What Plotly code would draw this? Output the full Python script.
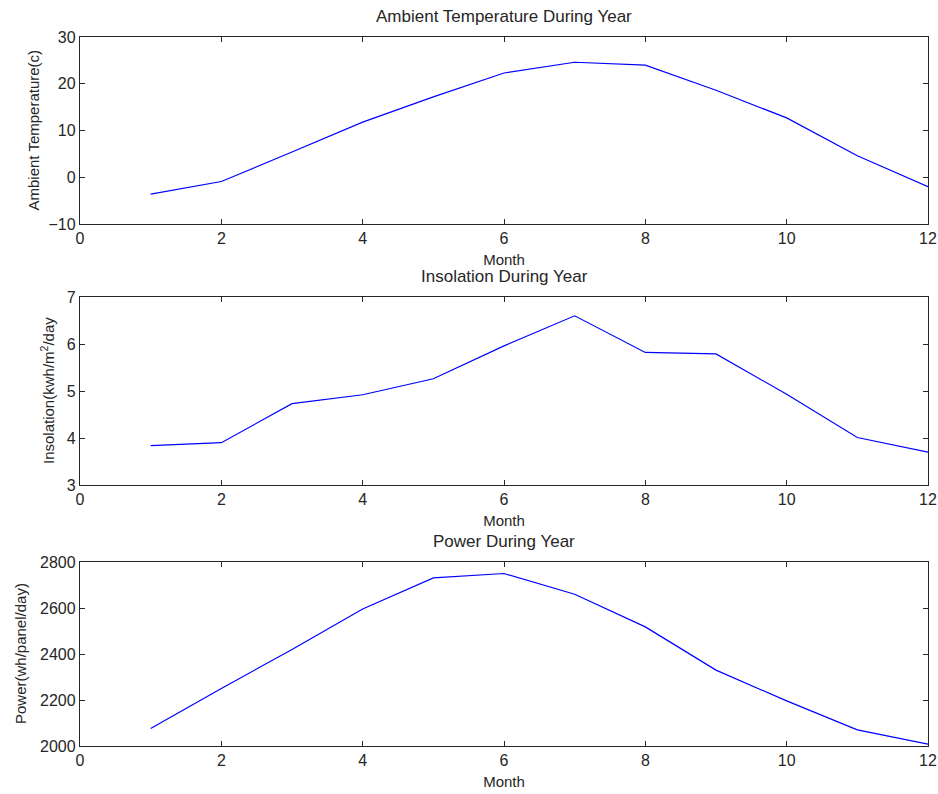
import plotly.graph_objects as go

months = [1, 2, 3, 4, 5, 6, 7, 8, 9, 10, 11, 12]
temperature = [-3.6, -0.9, 5.4, 11.8, 17.2, 22.3, 24.6, 24.0, 18.6, 12.7, 4.6, -2.0]
insolation = [3.84, 3.90, 4.73, 4.92, 5.26, 5.96, 6.60, 5.82, 5.79, 4.93, 4.01, 3.70]
power = [2076, 2250, 2420, 2596, 2731, 2750, 2660, 2518, 2330, 2196, 2070, 2008]

titles = ["Ambient Temperature During Year", "Insolation During Year", "Power During Year"]
ylabels = ["Ambient Temperature(c)", "Insolation(kwh/m<sup>2</sup>/day", "Power(wh/panel/day)"]
xlabel = "Month"
yranges = [[-10, 30], [3, 7], [2000, 2800]]
ydticks = [10, 1, 200]
xticks = [0, 2, 4, 6, 8, 10, 12]

series = [temperature, insolation, power]
domains = [[0.7362, 1.0], [0.3681, 0.6333], [0.0, 0.2595]]
# horizontal offset (px from plot left edge) of the y-axis label centres
ylabel_shift = [-46, -33, -60]

FONT = "Liberation Sans, Arial, Helvetica, sans-serif"
TXT = "#262626"

fig = go.Figure()
layout = dict(
    width=938, height=794,
    margin=dict(l=80, r=10, t=37, b=48, autoexpand=False),
    paper_bgcolor="white", plot_bgcolor="white",
    showlegend=False,
    font=dict(family=FONT, size=15, color="black"),
)
annotations = []
for i in range(3):
    n = "" if i == 0 else str(i + 1)
    fig.add_trace(go.Scatter(x=months, y=series[i], mode="lines",
                             line=dict(color="#0000ff", width=1.2),
                             xaxis="x" + n, yaxis="y" + n, cliponaxis=False))
    axis_common = dict(showline=True, linecolor=TXT, linewidth=1.3, mirror="ticks",
                       ticks="inside", ticklen=5, tickcolor=TXT, tickwidth=1.2,
                       showgrid=False, zeroline=False, automargin=False,
                       tickfont=dict(family=FONT, size=16, color=TXT))
    layout["xaxis" + n] = dict(axis_common, domain=[0, 1], anchor="y" + n,
                               range=[0, 12], tickvals=xticks,
                               title=dict(text=xlabel, standoff=8,
                                          font=dict(family=FONT, size=15, color=TXT)))
    layout["yaxis" + n] = dict(axis_common, domain=domains[i], anchor="x" + n,
                               range=yranges[i], dtick=ydticks[i])
    annotations.append(dict(text=titles[i], xref="paper", yref="paper",
                            x=0.5, y=domains[i][1], yanchor="bottom", xanchor="center",
                            yshift=9, showarrow=False,
                            font=dict(family=FONT, size=17, color=TXT)))
    annotations.append(dict(text=ylabels[i], xref="paper", yref="paper",
                            x=0, y=(domains[i][0] + domains[i][1]) / 2,
                            xanchor="center", yanchor="middle", textangle=-90,
                            xshift=ylabel_shift[i], showarrow=False,
                            font=dict(family=FONT, size=15, color=TXT)))
layout["annotations"] = annotations
fig.update_layout(**layout)
fig.write_html("out.html", config={"displayModeBar": False},
               post_script="document.body.style.margin='0';document.body.style.padding='0';")
